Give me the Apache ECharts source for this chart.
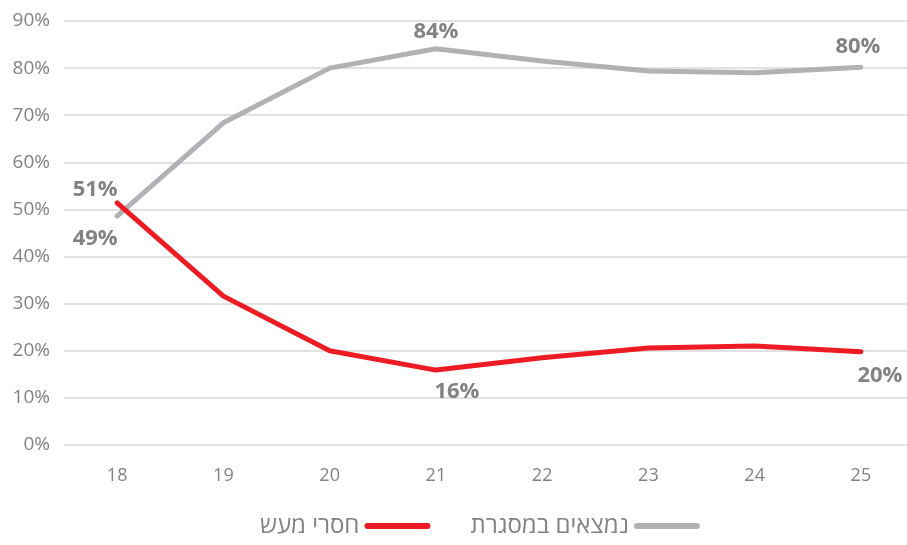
<!DOCTYPE html>
<html>
<head>
<meta charset="utf-8">
<script src="https://cdn.jsdelivr.net/npm/echarts@6/dist/echarts.min.js"></script>
<style>
  html, body { margin: 0; padding: 0; background: #fff; }
  #chart { width: 907px; height: 545px; }
</style>
</head>
<body>
<div id="chart"></div>
<script>
// גילאים
var ages = ['18', '19', '20', '21', '22', '23', '24', '25'];

// אחוזים לפי גיל
var inFramework = [48.6, 68.4, 80.0, 84.1, 81.5, 79.4, 79.0, 80.2];
var idle = [51.4, 31.6, 20.0, 15.9, 18.5, 20.6, 21.0, 19.8];

var seriesNames = ['חסרי מעש', 'נמצאים במסגרת'];

var labelColor = '#808285';
var axisColor = '#808285';

// תוויות מוצגות רק בנקודות מסוימות
function withLabels(values, labelled) {
    return values.map(function(v, i) {
        var cfg = labelled[i];
        if (!cfg) return v;
        return {
            value: v,
            label: {
                show: true,
                position: cfg.position,
                offset: cfg.offset,
                formatter: Math.round(v) + '%'
            }
        };
    });
}

var chart = echarts.init(document.getElementById('chart'));

var labelStyle = {
    color: labelColor,
    fontSize: 22,
    fontWeight: 'bold',
    fontFamily: '"Open Sans", sans-serif'
};

var option = {
    animation: false,
    grid: {
        left: 64,
        width: 850,
        top: 21,
        bottom: 100,
        outerBoundsMode: 'none'
    },
    legend: {
        data: seriesNames,
        bottom: 2,
        left: 255,
        align: 'right',
        itemWidth: 66,
        itemHeight: 6,
        itemGap: 40,
        icon: 'path://M3,0 H63 A3,3 0 0 1 63,6 H3 A3,3 0 0 1 3,0 Z',
        textStyle: {
            color: axisColor,
            fontSize: 24,
            fontFamily: '"Open Sans", sans-serif'
        }
    },
    xAxis: {
        type: 'category',
        data: ages,
        boundaryGap: true,
        axisLine: { show: false },
        axisTick: { show: false },
        axisLabel: {
            color: axisColor,
            fontSize: 18,
            margin: 22,
            fontFamily: '"Open Sans", sans-serif'
        }
    },
    yAxis: {
        type: 'value',
        min: 0,
        max: 90,
        interval: 10,
        axisLine: { show: false },
        axisTick: { show: false },
        axisLabel: {
            formatter: '{value}%',
            color: axisColor,
            fontSize: 19,
            margin: 14,
            fontFamily: '"Open Sans", sans-serif'
        },
        splitLine: {
            lineStyle: { color: '#d9d9d9', width: 1.5 }
        }
    },
    series: [
        {
            name: seriesNames[0],
            type: 'line',
            data: withLabels(idle, {
                0: { position: 'top', offset: [-22, 3] },
                3: { position: 'bottom', offset: [21, 6] },
                7: { position: 'bottom', offset: [19, 8] }
            }),
            symbol: 'circle',
            symbolSize: 0,
            showSymbol: true,
            lineStyle: { color: '#ed1c24', width: 5, cap: 'round' },
            itemStyle: { color: '#ed1c24' },
            label: labelStyle,
            z: 3
        },
        {
            name: seriesNames[1],
            type: 'line',
            data: withLabels(inFramework, {
                0: { position: 'bottom', offset: [-22, 7] },
                3: { position: 'top', offset: [0, -1] },
                7: { position: 'top', offset: [-3, -4] }
            }),
            symbol: 'circle',
            symbolSize: 0,
            showSymbol: true,
            lineStyle: { color: '#b1b2b6', width: 5, cap: 'round' },
            itemStyle: { color: '#b1b2b6' },
            label: labelStyle,
            z: 2
        }
    ]
};

chart.setOption(option);

window.addEventListener('resize', function() {
    chart.resize();
});
</script>
</body>
</html>
